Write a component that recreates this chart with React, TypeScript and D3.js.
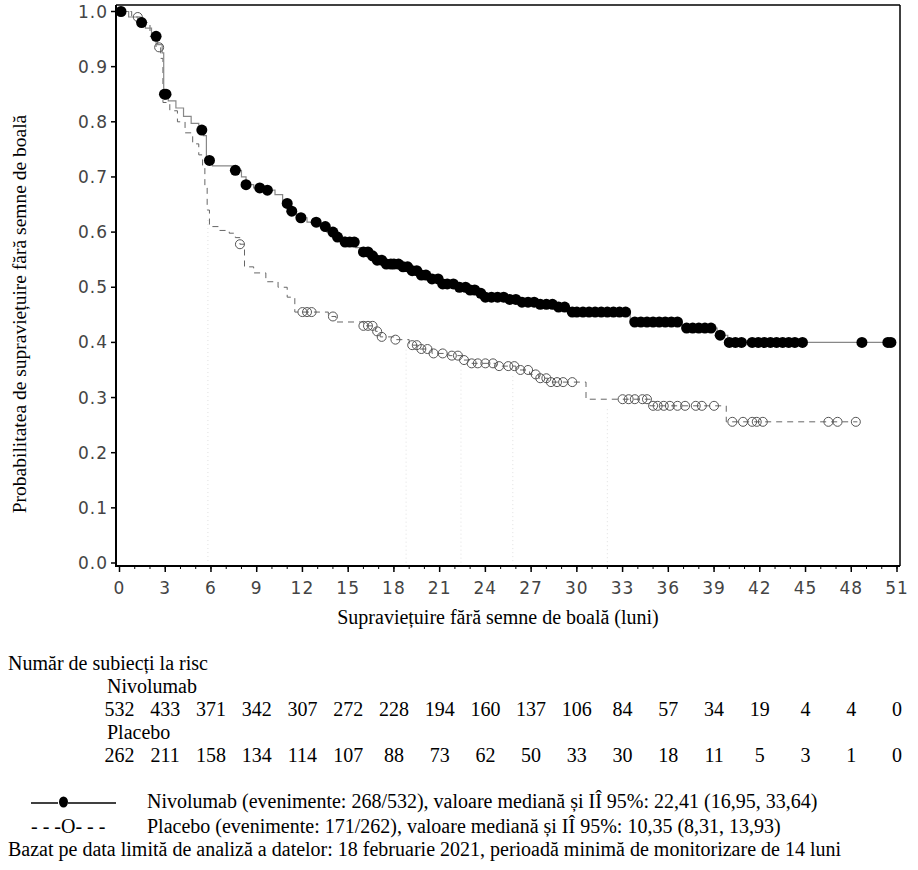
import * as React from "react";
import * as d3 from "d3";

// Kaplan-Meier steps: [month, survival after the step]
const nivSteps: [number, number][] = [
  [0, 1.0], [0.6, 0.99], [1.2, 0.98], [1.7, 0.97], [2.1, 0.955], [2.5, 0.94],
  [2.8, 0.925], [2.9, 0.85], [3.2, 0.838], [3.7, 0.825], [4.2, 0.81], [4.7, 0.797],
  [5.2, 0.785], [5.5, 0.775], [5.7, 0.73], [6.1, 0.72], [7.6, 0.712], [8.0, 0.7],
  [8.3, 0.686], [8.8, 0.68], [9.5, 0.676], [10.2, 0.668], [10.7, 0.652], [11.1, 0.638],
  [11.6, 0.626], [12.3, 0.618], [13.0, 0.61], [13.6, 0.6], [14.1, 0.591], [14.8, 0.582],
  [15.5, 0.572], [16.0, 0.564], [16.5, 0.557], [16.9, 0.549], [17.5, 0.542], [18.4, 0.537],
  [19.2, 0.53], [19.7, 0.522], [20.5, 0.515], [21.1, 0.506], [22.0, 0.5], [23.0, 0.495],
  [23.7, 0.489], [24.0, 0.482], [25.5, 0.478], [26.3, 0.473], [27.6, 0.469], [28.6, 0.464],
  [29.5, 0.455], [33.5, 0.437], [36.9, 0.426], [39.2, 0.413], [39.9, 0.4],
];
const nivEnd = 50.6;
const nivCensored: number[] = [
  0.1, 1.45, 2.4, 2.95, 3.05, 5.4, 5.9, 7.6, 8.3, 9.2, 9.7, 11.0, 11.3, 11.9, 12.9,
  13.5, 14.0, 14.3, 14.8, 15.1, 15.4, 16.0, 16.3, 16.6, 16.9, 17.2, 17.5, 17.8, 18.0,
  18.3, 18.6, 18.9, 19.2, 19.5, 19.8, 20.1, 20.5, 20.9, 21.2, 21.5, 21.9, 22.3, 22.7,
  23.0, 23.3, 23.7, 24.0, 24.4, 24.8, 25.2, 25.6, 26.0, 26.4, 26.8, 27.2, 27.6, 28.0,
  28.4, 28.8, 29.2, 29.7, 30.0, 30.4, 30.8, 31.2, 31.6, 32.0, 32.4, 32.8, 33.2, 33.8,
  34.2, 34.6, 35.0, 35.4, 35.8, 36.2, 36.6, 37.2, 37.6, 38.0, 38.4, 38.8, 39.4, 40.0,
  40.4, 40.8, 41.5, 41.9, 42.3, 42.7, 43.1, 43.5, 43.9, 44.3, 44.8, 48.7, 50.4, 50.6,
];

const pboSteps: [number, number][] = [
  [0, 1.0], [0.8, 0.99], [1.4, 0.98], [2.0, 0.955], [2.4, 0.935], [2.7, 0.915],
  [2.85, 0.835], [3.3, 0.82], [3.8, 0.8], [4.3, 0.78], [4.8, 0.76], [5.2, 0.74],
  [5.45, 0.72], [5.6, 0.68], [5.75, 0.64], [5.9, 0.61], [6.5, 0.603], [7.2, 0.598],
  [7.6, 0.59], [7.9, 0.578], [8.2, 0.537], [8.8, 0.526], [9.6, 0.51], [10.4, 0.5],
  [11.0, 0.482], [11.5, 0.455], [13.7, 0.447], [14.2, 0.437], [16.0, 0.43], [16.8, 0.42],
  [17.1, 0.41], [18.0, 0.405], [19.0, 0.395], [19.6, 0.388], [20.5, 0.38], [21.6, 0.376],
  [22.5, 0.368], [23.0, 0.362], [24.7, 0.357], [26.0, 0.35], [26.9, 0.342], [27.5, 0.335],
  [28.1, 0.328], [30.6, 0.297], [34.8, 0.285], [39.8, 0.256],
];
const pboEnd = 48.4;
const pboCensored: number[] = [
  1.2, 2.6, 7.9, 12.0, 12.3, 12.6, 14.0, 16.0, 16.3, 16.6, 16.9, 17.2, 18.1, 19.2,
  19.5, 19.8, 20.2, 20.6, 21.2, 21.8, 22.2, 22.6, 23.1, 23.5, 24.0, 24.5, 24.9, 25.5,
  25.9, 26.3, 26.8, 27.3, 27.6, 28.0, 28.3, 28.7, 29.1, 29.7, 33.0, 33.4, 33.8, 34.3,
  34.6, 35.0, 35.3, 35.7, 36.1, 36.6, 37.1, 37.8, 38.2, 39.0, 40.2, 40.9, 41.5, 41.8,
  42.2, 46.5, 47.1, 48.3,
];

// faint dotted drop lines
const dropLines: number[] = [5.8, 18.8, 22.4, 25.8, 32.0];

const xTicks: number[] = [0, 3, 6, 9, 12, 15, 18, 21, 24, 27, 30, 33, 36, 39, 42, 45, 48, 51];
const yTicks: number[] = [0, 0.1, 0.2, 0.3, 0.4, 0.5, 0.6, 0.7, 0.8, 0.9, 1.0];

const nivAtRisk: number[] = [532, 433, 371, 342, 307, 272, 228, 194, 160, 137, 106, 84, 57, 34, 19, 4, 4, 0];
const pboAtRisk: number[] = [262, 211, 158, 134, 114, 107, 88, 73, 62, 50, 33, 30, 18, 11, 5, 3, 1, 0];

const serif = "'Liberation Serif', 'Times New Roman', serif";
const sans = "'DejaVu Sans', Verdana, sans-serif";

const frame = { left: 116, right: 900, top: 5, bottom: 566 };

function survivalAt(steps: [number, number][], t: number) {
  let s = steps[0][1];
  for (const [m, v] of steps) {
    if (m <= t) s = v;
    else break;
  }
  return s;
}

export default function App() {
  const x = d3.scaleLinear().domain([0, 51]).range([119.5, 897]);
  const y = d3.scaleLinear().domain([0, 1]).range([563, 11.5]);

  const stepLine = d3
    .line<[number, number]>()
    .x((d) => x(d[0]))
    .y((d) => y(d[1]))
    .curve(d3.curveStepAfter);

  const nivPath = stepLine([...nivSteps, [nivEnd, nivSteps[nivSteps.length - 1][1]]]) || "";
  const pboPath = stepLine([...pboSteps, [pboEnd, pboSteps[pboSteps.length - 1][1]]]) || "";
  const minorTicks = d3.range(0, 52);

  return (
    <svg
      width={918}
      height={870}
      style={{ position: "absolute", left: 0, top: 0, background: "#fff" }}
    >
      {dropLines.map((t, i) => (
        <line
          key={"d" + i}
          x1={x(t)}
          x2={x(t)}
          y1={y(survivalAt(pboSteps, t)) + 10}
          y2={y(0)}
          stroke="#e0e0e0"
          strokeDasharray="1,3"
        />
      ))}

      {/* frame */}
      <line x1={frame.left} x2={frame.right} y1={frame.top} y2={frame.top} stroke="#000" strokeWidth={1.5} />
      <line x1={frame.right} x2={frame.right} y1={frame.top} y2={frame.bottom} stroke="#000" strokeWidth={1.5} />
      <line x1={frame.left} x2={frame.left} y1={frame.top} y2={frame.bottom + 1} stroke="#000" strokeWidth={2} />
      <line x1={frame.left} x2={frame.right} y1={frame.bottom} y2={frame.bottom} stroke="#000" strokeWidth={2} />

      {yTicks.map((v) => (
        <g key={"y" + v}>
          <line x1={frame.left - 5} x2={frame.left} y1={y(v)} y2={y(v)} stroke="#000" strokeWidth={1.5} />
          <text
            x={frame.left - 8}
            y={y(v) + 6}
            textAnchor="end"
            fontFamily={sans}
            fontSize={17}
            fill="#444"
            letterSpacing={1}
          >
            {v.toFixed(1)}
          </text>
        </g>
      ))}

      {minorTicks.map((m) => (
        <line key={"m" + m} x1={x(m)} x2={x(m)} y1={frame.bottom} y2={frame.bottom + 3} stroke="#000" />
      ))}
      {xTicks.map((m) => (
        <g key={"x" + m}>
          <line x1={x(m)} x2={x(m)} y1={frame.bottom} y2={frame.bottom + 6} stroke="#000" strokeWidth={1.5} />
          <text
            x={x(m)}
            y={594}
            textAnchor="middle"
            fontFamily={sans}
            fontSize={17}
            fill="#444"
            letterSpacing={1}
          >
            {m}
          </text>
        </g>
      ))}

      <text x={498} y={624} textAnchor="middle" fontFamily={serif} fontSize={20}>
        Supraviețuire fără semne de boală (luni)
      </text>
      <text
        transform="translate(26,314) rotate(-90)"
        textAnchor="middle"
        fontFamily={serif}
        fontSize={19.5}
      >
        Probabilitatea de supraviețuire fără semne de boală
      </text>

      {/* curves */}
      <path d={pboPath} fill="none" stroke="#666" strokeWidth={1} strokeDasharray="6,5" />
      <path d={nivPath} fill="none" stroke="#888" strokeWidth={1.2} />

      {pboCensored.map((t, i) => (
        <circle
          key={"p" + i}
          cx={x(t)}
          cy={y(survivalAt(pboSteps, t))}
          r={4.5}
          fill="none"
          stroke="#555"
          strokeWidth={1}
        />
      ))}
      {nivCensored.map((t, i) => (
        <circle key={"n" + i} cx={x(t)} cy={y(survivalAt(nivSteps, t))} r={5.5} fill="#000" />
      ))}

      {/* numbers at risk */}
      <g fontFamily={serif} fontSize={20} fill="#000">
        <text x={8} y={670}>Număr de subiecți la risc</text>
        <text x={107} y={693}>Nivolumab</text>
        {nivAtRisk.map((n, i) => (
          <text key={"rn" + i} x={x(xTicks[i])} y={716} textAnchor="middle">
            {n}
          </text>
        ))}
        <text x={107} y={739}>Placebo</text>
        {pboAtRisk.map((n, i) => (
          <text key={"rp" + i} x={x(xTicks[i])} y={762} textAnchor="middle">
            {n}
          </text>
        ))}
      </g>

      {/* legend */}
      <line x1={31} x2={58} y1={803} y2={803} stroke="#000" strokeWidth={1.5} />
      <ellipse cx={63.5} cy={802} rx={4.5} ry={5.5} fill="#000" />
      <line x1={68} x2={116} y1={803} y2={803} stroke="#000" strokeWidth={1.5} />
      <g fontFamily={serif} fontSize={20} fill="#000">
        <text x={147} y={808}>
          Nivolumab (evenimente: 268/532), valoare mediană și IÎ 95%: 22,41 (16,95, 33,64)
        </text>
        <text x={31} y={833}>- - -O- - -</text>
        <text x={147} y={833}>
          Placebo (evenimente: 171/262), valoare mediană și IÎ 95%: 10,35 (8,31, 13,93)
        </text>
        <text x={8} y={856}>
          Bazat pe data limită de analiză a datelor: 18 februarie 2021, perioadă minimă de monitorizare de 14 luni
        </text>
      </g>
    </svg>
  );
}
